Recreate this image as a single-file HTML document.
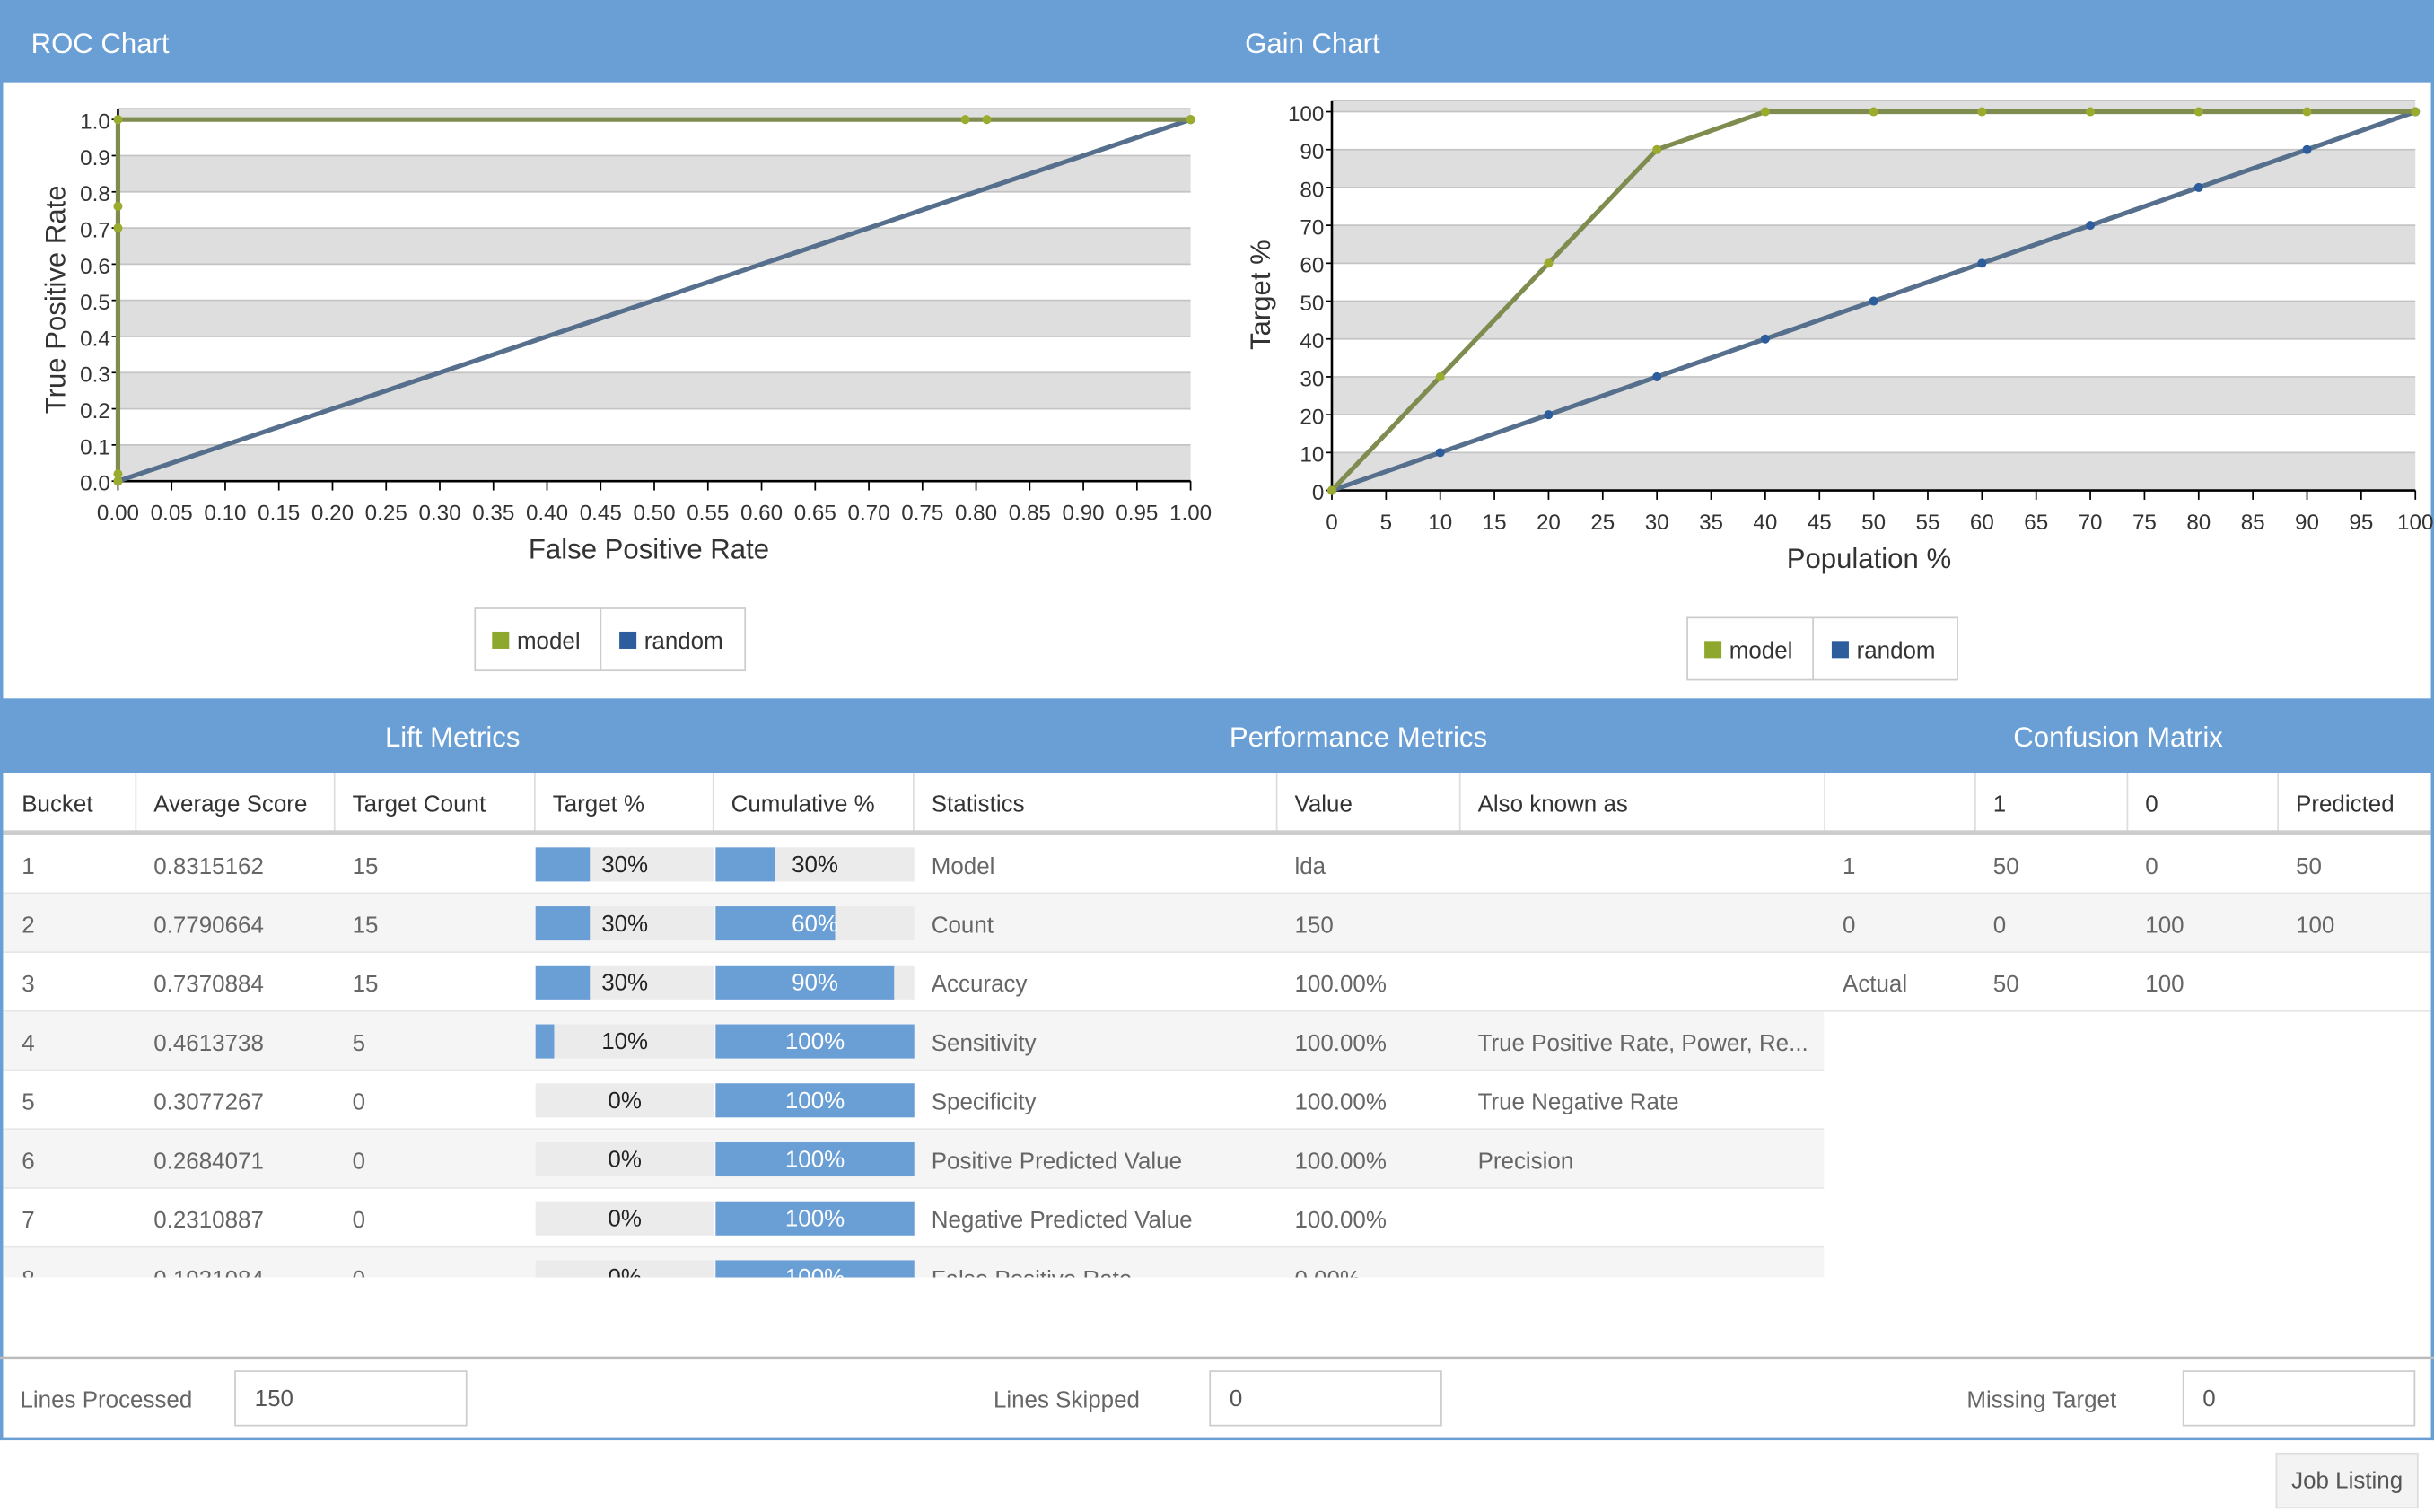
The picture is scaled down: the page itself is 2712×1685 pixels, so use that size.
<!DOCTYPE html>
<html><head><meta charset="utf-8">
<style>
html,body{margin:0;padding:0;background:#fff;overflow:hidden;}
body{width:2712px;height:1684px;}
#root{position:absolute;left:0;top:0;width:1568px;height:974px;transform:scale(1.72959);transform-origin:0 0;font-family:"Liberation Sans",sans-serif;color:#555;}
.abs{position:absolute;}
.hdr{position:absolute;background:#6a9fd6;color:#fff;font-size:18px;}
.inp{position:absolute;border:1px solid #ccc;background:#fff;font-size:15px;box-sizing:border-box;padding:9px 12px;color:#555;}
</style></head>
<body>
<div id="root">
  <div class="hdr" style="left:0;top:0;width:1568px;height:53px;">
    <span class="abs" style="left:20px;top:18px;">ROC Chart</span>
    <span class="abs" style="left:802px;top:18px;">Gain Chart</span>
  </div>
  <div class="abs" style="left:0;top:0;width:2px;height:928px;background:#6a9fd6;"></div>
  <div class="abs" style="left:1566px;top:0;width:2px;height:928px;background:#6a9fd6;"></div>
  <svg id="charts" class="abs" style="left:0;top:0" width="1568" height="450"></svg>

  <div class="hdr" style="left:0;top:450px;width:1568px;height:48px;">
    <span class="abs" style="left:248px;top:15px;">Lift Metrics</span>
    <span class="abs" style="left:792px;top:15px;">Performance Metrics</span>
    <span class="abs" style="left:1297px;top:15px;">Confusion Matrix</span>
  </div>
  <div id="table" class="abs" style="left:0;top:498px;width:1568px;height:325px;overflow:hidden;"></div>

  <div class="abs" style="left:0;top:874px;width:1568px;height:2px;background:#bbb;"></div>
  <div class="abs" style="left:0;top:926px;width:1568px;height:2px;background:#6a9fd6;"></div>
  <span class="abs" style="left:13px;top:894px;font-size:15px;color:#666;">Lines Processed</span>
  <div class="inp" style="left:151px;top:883px;width:150px;height:36px;">150</div>
  <span class="abs" style="left:640px;top:894px;font-size:15px;color:#666;">Lines Skipped</span>
  <div class="inp" style="left:779px;top:883px;width:150px;height:36px;">0</div>
  <span class="abs" style="left:1267px;top:894px;font-size:15px;color:#666;">Missing Target</span>
  <div class="inp" style="left:1406px;top:883px;width:150px;height:36px;">0</div>
  <div class="abs" style="left:1466px;top:936px;width:92px;height:36px;background:#f3f3f3;border:1px solid #ddd;box-sizing:border-box;font-size:15px;color:#555;text-align:center;line-height:36px;">Job Listing</div>
</div>
<script>
// ROC data
const rocModelX=[0,0,0,0,0,0.79,0.81,1];
const rocModelY=[0,0.02,0.7,0.76,1,1,1,1];
const rocRandX=[0,1];
const rocRandY=[0,1];
const rocXTicks=["0.00","0.05","0.10","0.15","0.20","0.25","0.30","0.35","0.40","0.45","0.50","0.55","0.60","0.65","0.70","0.75","0.80","0.85","0.90","0.95","1.00"];
const rocYTicks=["0.0","0.1","0.2","0.3","0.4","0.5","0.6","0.7","0.8","0.9","1.0"];
// Gain data
const gainX=[0,10,20,30,40,50,60,70,80,90,100];
const gainModel=[0,30,60,90,100,100,100,100,100,100,100];
const gainRandom=[0,10,20,30,40,50,60,70,80,90,100];
const gainXTicks=["0","5","10","15","20","25","30","35","40","45","50","55","60","65","70","75","80","85","90","95","100"];
const gainYTicks=["0","10","20","30","40","50","60","70","80","90","100"];
// Table data
const buckets=["1","2","3","4","5","6","7","8"];
const avgScores=["0.8315162","0.7790664","0.7370884","0.4613738","0.3077267","0.2684071","0.2310887","0.1931084"];
const targetCounts=["15","15","15","5","0","0","0","0"];
const targetPct=[30,30,30,10,0,0,0,0];
const cumPct=[30,60,90,100,100,100,100,100];
const statNames=["Model","Count","Accuracy","Sensitivity","Specificity","Positive Predicted Value","Negative Predicted Value","False Positive Rate"];
const statValues=["lda","150","100.00%","100.00%","100.00%","100.00%","100.00%","0.00%"];
const statAka=["","","","True Positive Rate, Power, Re...","True Negative Rate","Precision","",""];
const cmRows=[["1","50","0","50"],["0","0","100","100"],["Actual","50","100",""]];

const NS="http://www.w3.org/2000/svg";
const svg=document.getElementById('charts');
function mk(tag,attrs,parent,name){const e=document.createElementNS(NS,tag);for(const k in attrs)e.setAttribute(k,attrs[k]);(parent||svg).appendChild(e);


return e;}
function txt(x,y,s,size,anchor,name,extra){const t=mk('text',Object.assign({x:x,y:y,'font-size':size,'text-anchor':anchor||'start',fill:'#333','font-family':'Liberation Sans, sans-serif'},extra||{}),svg,name);t.textContent=s;return t;}

function chart(o){
  const sx=v=>o.x0+(v-o.xmin)/(o.xmax-o.xmin)*(o.x1-o.x0);
  const sy=v=>o.y0-(v-o.ymin)/(o.ymax-o.ymin)*(o.y0-o.y1);
  for(let i=0;i<o.yt.length;i+=2){
    const a=o.ymin+i*o.ystep, b=Math.min(a+o.ystep,o.ytop);
    mk('rect',{x:o.x0,y:sy(b),width:o.x1-o.x0,height:sy(a)-sy(b),fill:'#dedede'},svg,o.p+'-band');
  }
  for(let i=0;i<o.yt.length;i++){const v=o.ymin+i*o.ystep;
    mk('line',{x1:o.x0,x2:o.x1,y1:sy(v),y2:sy(v),stroke:'#c4c4c4','stroke-width':1},svg,o.p+'-gridline');
    mk('line',{x1:o.x0-4,x2:o.x0,y1:sy(v),y2:sy(v),stroke:'#000','stroke-width':1},svg,o.p+'-y-tick');
    txt(o.x0-5,sy(v)+6,o.yt[i],14,'end',o.p+'-y-tick-label');
  }
  const topY=sy(o.ytop);
  mk('line',{x1:o.x0,x2:o.x1,y1:topY,y2:topY,stroke:'#c4c4c4'},svg,o.p+'-top-line');
  for(let i=0;i<o.xt.length;i++){const v=o.xmin+i*o.xstep;
    mk('line',{x1:sx(v),x2:sx(v),y1:o.y0,y2:o.y0+6,stroke:'#000'},svg,o.p+'-x-tick');
    txt(sx(v),o.y0+25,o.xt[i],14,'middle',o.p+'-x-tick-label');
  }
  mk('line',{x1:o.x0,x2:o.x0,y1:topY,y2:o.y0,stroke:'#000','stroke-width':1.5},svg,o.p+'-y-axis');
  mk('line',{x1:o.x0,x2:o.x1,y1:o.y0,y2:o.y0,stroke:'#000','stroke-width':1.5},svg,o.p+'-x-axis');
  o.series.forEach(s=>{
    const pts=s.x.map((v,i)=>sx(v)+','+sy(s.y[i])).join(' ');
    mk('polyline',{points:pts,fill:'none',stroke:s.line,'stroke-width':3},svg,o.p+'-'+s.name+'-line');
    s.x.forEach((v,i)=>mk('circle',{cx:sx(v),cy:sy(s.y[i]),r:2.5,fill:s.dot,stroke:s.dot,'stroke-width':0.8},svg,o.p+'-'+s.name+'-point'));
  });
  txt(o.xtx,o.xty,o.xtitle,18,'middle',o.p+'-x-axis-title',{fill:'#333'});
  txt(0,0,o.ytitle,18,'middle',o.p+'-y-axis-title',{transform:`translate(${o.ytx},${o.yty}) rotate(-90)`});
  const L=o.leg;
  mk('rect',{x:L,y:o.legy,width:174,height:40,fill:'#fff',stroke:'#ccc'},svg,o.p+'-legend');
  mk('line',{x1:L+81,x2:L+81,y1:o.legy,y2:o.legy+40,stroke:'#ccc'},svg,o.p+'-legend-divider');
  mk('rect',{x:L+11,y:o.legy+15,width:11,height:11,fill:'#8ea82e'},svg,o.p+'-legend-model-swatch');
  txt(L+27,o.legy+26,'model',15,'start',o.p+'-legend-model');
  mk('rect',{x:L+93,y:o.legy+15,width:11,height:11,fill:'#2d5d9c'},svg,o.p+'-legend-random-swatch');
  txt(L+109,o.legy+26,'random',15,'start',o.p+'-legend-random');
}
chart({p:'roc',x0:76,x1:767,y0:310,y1:77,xmin:0,xmax:1,ymin:0,ymax:1,ytop:1.03,ystep:0.1,xstep:0.05,yt:rocYTicks,xt:rocXTicks,
  series:[{name:'random',x:rocRandX,y:rocRandY,line:'#566f8c',dot:'#2d5d9c'},{name:'model',x:rocModelX,y:rocModelY,line:'#7f8c4f',dot:'#9aab2e'}],
  xtitle:'False Positive Rate',xtx:418,xty:360,ytitle:'True Positive Rate',ytx:42,yty:193,leg:306,legy:392});
chart({p:'gain',x0:858,x1:1556,y0:316,y1:72,xmin:0,xmax:100,ymin:0,ymax:100,ytop:103,ystep:10,xstep:5,yt:gainYTicks,xt:gainXTicks,
  series:[{name:'random',x:gainX,y:gainRandom,line:'#566f8c',dot:'#2d5d9c'},{name:'model',x:gainX,y:gainModel,line:'#7f8c4f',dot:'#9aab2e'}],
  xtitle:'Population %',xtx:1204,xty:366,ytitle:'Target %',ytx:818,yty:190,leg:1087,legy:398});

const T=document.getElementById('table');
const cols=[2,87,215,344,459,588,822,940,1175,1272,1370,1467,1566];
const heads=["Bucket","Average Score","Target Count","Target %","Cumulative %","Statistics","Value","Also known as","","1","0","Predicted"];
function div(css,text,name,inter){const d=document.createElement('div');d.style.cssText=css;if(text!==undefined)d.textContent=text;T.appendChild(d);


return d;}
heads.forEach((h,i)=>{
  div(`position:absolute;left:${cols[i]}px;top:0;width:${cols[i+1]-cols[i]}px;height:38px;border-left:${i?1:0}px solid #ddd;box-sizing:border-box;`,undefined,'header-cell-border');
  div(`position:absolute;left:${cols[i]+12}px;top:12px;font-size:15px;color:#333;white-space:nowrap;`,h,'column-header');
});
div('position:absolute;left:2px;top:37px;width:1564px;height:3px;background:#ccc;',undefined,'header-underline');
const RH=38,R0=40;
buckets.forEach((b,r)=>{
  const y=R0+r*RH;
  const w=r<3?1564:1173;
  div(`position:absolute;left:2px;top:${y}px;width:${w}px;height:${RH}px;background:${r%2?'#f5f5f5':'#fff'};border-bottom:1px solid #e6e6e6;box-sizing:border-box;`,undefined,'table-row');
  const vals=[b,avgScores[r],targetCounts[r]];
  vals.forEach((v,i)=>div(`position:absolute;left:${cols[i]+12}px;top:${y+12}px;font-size:15px;color:#666;`,v,['bucket-cell','average-score-cell','target-count-cell'][i]));
  [[targetPct[r],344,459,'target-pct-bar'],[cumPct[r],460,588,'cumulative-pct-bar']].forEach(([p,a,z,nm])=>{
    const W=z-a;
    div(`position:absolute;left:${a+1}px;top:${y+8}px;width:${W}px;height:22px;background:#ebebeb;`,undefined,nm+'-track');
    div(`position:absolute;left:${a+1}px;top:${y+8}px;width:${W*p/100}px;height:22px;background:#6a9fd6;`,undefined,nm);
    div(`position:absolute;left:${a+1}px;top:${y+11}px;width:${W}px;text-align:center;font-size:15px;color:${p>=55?'#fff':'#222'};`,p+'%',nm+'-label');
  });
  div(`position:absolute;left:${cols[5]+12}px;top:${y+12}px;font-size:15px;color:#666;`,statNames[r],'statistic-name');
  div(`position:absolute;left:${cols[6]+12}px;top:${y+12}px;font-size:15px;color:#666;`,statValues[r],'statistic-value');
  div(`position:absolute;left:${cols[7]+12}px;top:${y+12}px;font-size:15px;color:#666;white-space:nowrap;`,statAka[r],'statistic-aka');
  if(r<3){cmRows[r].forEach((v,i)=>div(`position:absolute;left:${cols[8+i]+12}px;top:${y+12}px;font-size:15px;color:#666;`,v,'confusion-matrix-cell'));}
});
</script>
</body></html>
